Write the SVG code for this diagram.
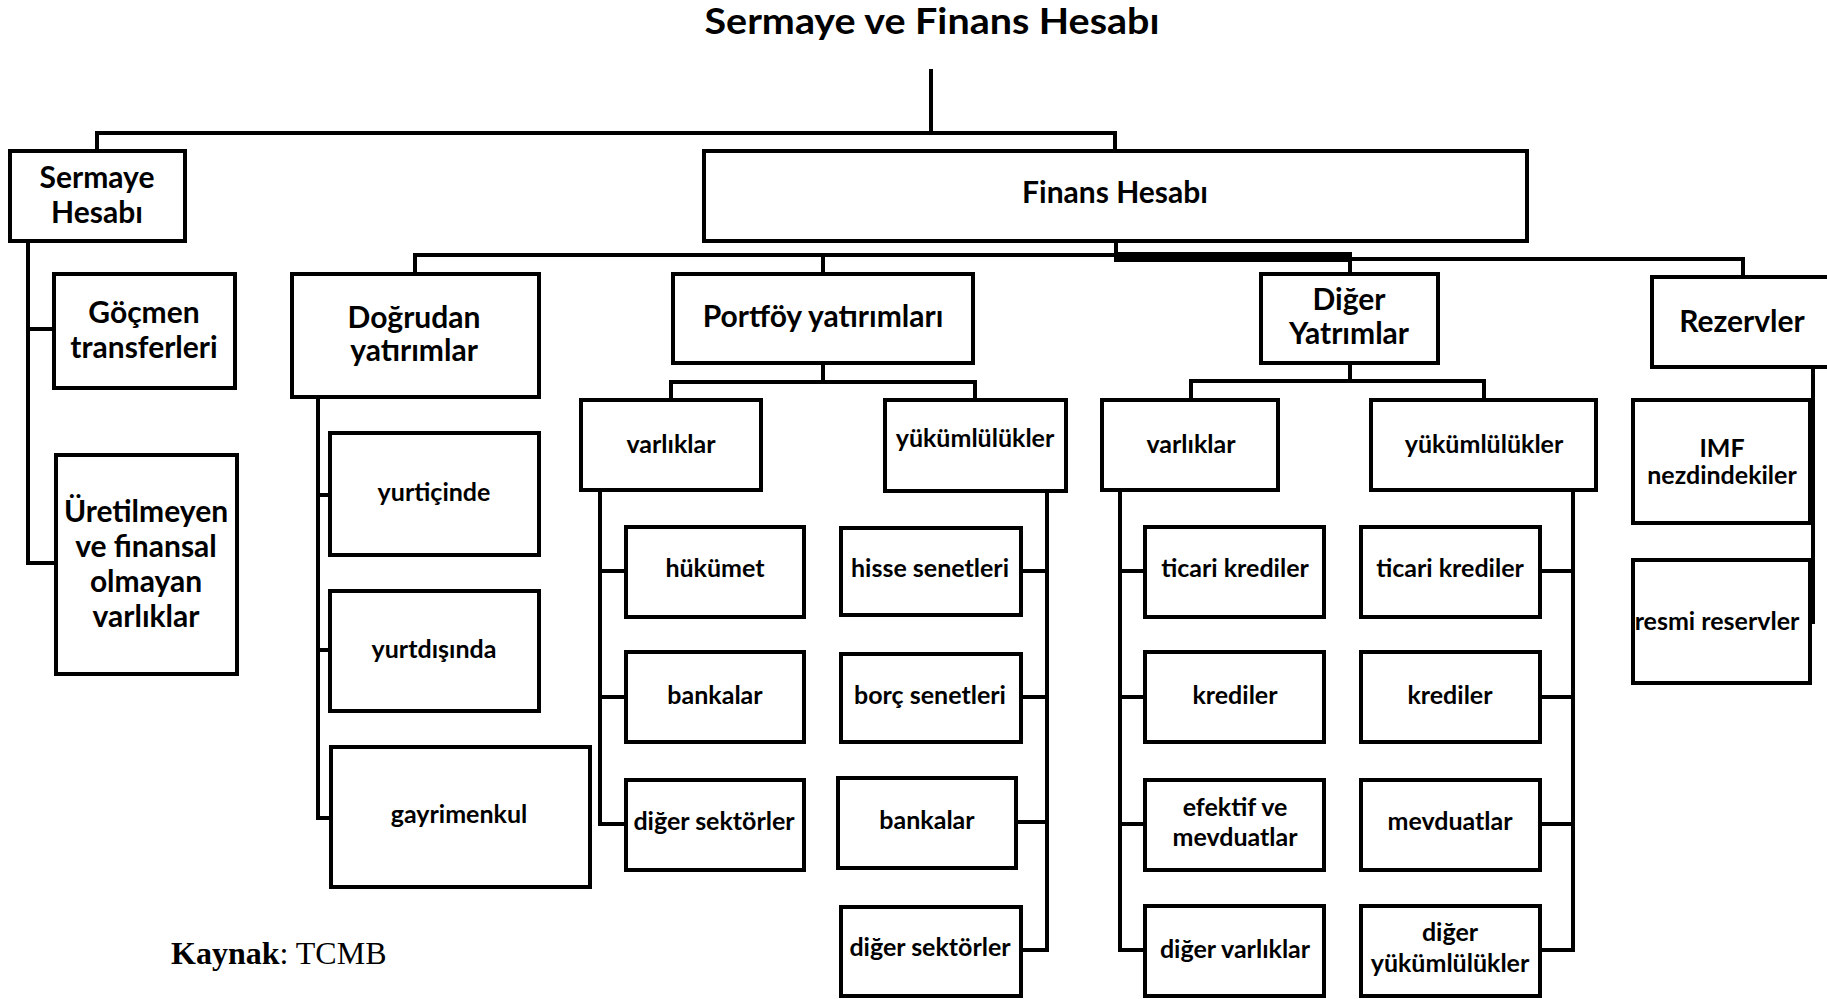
<svg xmlns="http://www.w3.org/2000/svg" width="1827" height="999" viewBox="0 0 1827 999">
<style>
.b{fill:#fff;stroke:#000;stroke-width:4}
.c{fill:none;stroke:#000;stroke-width:4;stroke-linecap:square}
.t{font-family:Lato,"Open Sans","Liberation Sans",sans-serif;font-weight:bold;fill:#000;text-anchor:middle}
.L{font-size:30px}
.S{font-size:25px}
</style>
<rect width="1827" height="999" fill="#fff"/>
<text class="t" x="932" y="34" style="font-size:36px" textLength="455" lengthAdjust="spacingAndGlyphs">Sermaye ve Finans Hesabı</text>
<g id="connectors">
<path class="c" d="M931 71V133M97 133H1115M97 133V151M1115 133V151"/>
<path class="c" d="M1116 241V255M415 255H1116M415 255V274M823 255V274"/>
<rect x="1114" y="252" width="238" height="10" fill="#000"/>
<path class="c" d="M1350 259H1743M1350 259V274M1743 259V277"/>
<path class="c" d="M28 241V563M28 329H54M28 563H56"/>
<path class="c" d="M318 397V818M318 495H330M318 650H330M318 818H331"/>
<path class="c" d="M823 363V382M671 382H975M671 382V400M975 382V400"/>
<path class="c" d="M600 490V824M600 571H626M600 697H626M600 824H626"/>
<path class="c" d="M1047 491V950M1021 571H1047M1021 697H1047M1016 822H1047M1021 950H1047"/>
<path class="c" d="M1350 363V381M1191 381H1484M1191 381V400M1484 381V400"/>
<path class="c" d="M1120 490V950M1120 571H1145M1120 697H1145M1120 824H1145M1120 950H1145"/>
<path class="c" d="M1573 490V950M1540 571H1573M1540 697H1573M1540 824H1573M1540 950H1573"/>
<path class="c" d="M1813 367V622"/>
</g>
<g id="sermaye-hesabi"><rect class="b" x="10" y="151" width="175" height="90"/><text class="t L" x="97" y="188">Sermaye</text><text class="t L" x="97" y="223">Hesabı</text></g>
<g id="finans-hesabi"><rect class="b" x="704" y="151" width="823" height="90"/><text class="t L" x="1115" y="203">Finans Hesabı</text></g>
<g id="gocmen"><rect class="b" x="54" y="274" width="181" height="114"/><text class="t L" x="144" y="323">Göçmen</text><text class="t L" x="144" y="358">transferleri</text></g>
<g id="uretilmeyen"><rect class="b" x="56" y="455" width="181" height="219"/><text class="t L" x="146" y="522">Üretilmeyen</text><text class="t L" x="146" y="557">ve finansal</text><text class="t L" x="146" y="592">olmayan</text><text class="t L" x="146" y="627">varlıklar</text></g>
<g id="dogrudan"><rect class="b" x="292" y="274" width="247" height="123"/><text class="t L" x="414" y="328">Doğrudan</text><text class="t L" x="414" y="361">yatırımlar</text></g>
<g id="yurticinde"><rect class="b" x="330" y="433" width="209" height="122"/><text class="t S" x="434" y="501">yurtiçinde</text></g>
<g id="yurtdisinda"><rect class="b" x="330" y="591" width="209" height="120"/><text class="t S" x="434" y="658">yurtdışında</text></g>
<g id="gayrimenkul"><rect class="b" x="331" y="747" width="259" height="140"/><text class="t S" x="459" y="823">gayrimenkul</text></g>
<g id="portfoy"><rect class="b" x="673" y="274" width="300" height="89"/><text class="t L" x="823" y="327">Portföy yatırımları</text></g>
<g id="p-varliklar"><rect class="b" x="581" y="400" width="180" height="90"/><text class="t S" x="671" y="453">varlıklar</text></g>
<g id="p-yukumlulukler"><rect class="b" x="885" y="400" width="181" height="91"/><text class="t S" x="975" y="447">yükümlülükler</text></g>
<g id="p-hukumet"><rect class="b" x="626" y="527" width="178" height="90"/><text class="t S" x="715" y="577">hükümet</text></g>
<g id="p-bankalar"><rect class="b" x="626" y="652" width="178" height="90"/><text class="t S" x="715" y="704">bankalar</text></g>
<g id="p-diger-sektorler"><rect class="b" x="626" y="780" width="178" height="90"/><text class="t S" x="714" y="830">diğer sektörler</text></g>
<g id="p-hisse"><rect class="b" x="841" y="528" width="180" height="87"/><text class="t S" x="930" y="577">hisse senetleri</text></g>
<g id="p-borc"><rect class="b" x="841" y="654" width="180" height="88"/><text class="t S" x="930" y="704">borç senetleri</text></g>
<g id="p-bankalar2"><rect class="b" x="838" y="778" width="178" height="90"/><text class="t S" x="927" y="829">bankalar</text></g>
<g id="p-diger-sektorler2"><rect class="b" x="841" y="907" width="180" height="89"/><text class="t S" x="930" y="956">diğer sektörler</text></g>
<g id="diger-yatirimlar"><rect class="b" x="1261" y="274" width="177" height="89"/><text class="t L" x="1349" y="310">Diğer</text><text class="t L" x="1349" y="344">Yatrımlar</text></g>
<g id="d-varliklar"><rect class="b" x="1102" y="400" width="176" height="90"/><text class="t S" x="1191" y="453">varlıklar</text></g>
<g id="d-yukumlulukler"><rect class="b" x="1371" y="400" width="225" height="90"/><text class="t S" x="1484" y="453">yükümlülükler</text></g>
<g id="d-ticari"><rect class="b" x="1145" y="527" width="179" height="90"/><text class="t S" x="1235" y="577">ticari krediler</text></g>
<g id="d-krediler"><rect class="b" x="1145" y="652" width="179" height="90"/><text class="t S" x="1235" y="704">krediler</text></g>
<g id="d-efektif"><rect class="b" x="1145" y="780" width="179" height="90"/><text class="t S" x="1235" y="816">efektif ve</text><text class="t S" x="1235" y="846">mevduatlar</text></g>
<g id="d-diger-varliklar"><rect class="b" x="1145" y="906" width="179" height="90"/><text class="t S" x="1235" y="958">diğer varlıklar</text></g>
<g id="y-ticari"><rect class="b" x="1361" y="527" width="179" height="90"/><text class="t S" x="1450" y="577">ticari krediler</text></g>
<g id="y-krediler"><rect class="b" x="1361" y="652" width="179" height="90"/><text class="t S" x="1450" y="704">krediler</text></g>
<g id="y-mevduatlar"><rect class="b" x="1361" y="780" width="179" height="90"/><text class="t S" x="1450" y="830">mevduatlar</text></g>
<g id="y-diger"><rect class="b" x="1361" y="906" width="179" height="90"/><text class="t S" x="1450" y="941">diğer</text><text class="t S" x="1450" y="972">yükümlülükler</text></g>
<g id="rezervler"><rect class="b" x="1652" y="277" width="200" height="90"/><text class="t L" x="1742" y="332">Rezervler</text></g>
<g id="imf"><rect class="b" x="1633" y="400" width="177" height="123"/><text class="t S" x="1722" y="457">IMF</text><text class="t S" x="1722" y="484">nezdindekiler</text></g>
<g id="resmi"><rect class="b" x="1633" y="560" width="177" height="123"/><text class="t S" x="1717" y="630">resmi reservler</text></g>
<text x="171" y="964" style="font-family:'Liberation Serif',serif;font-size:32px"><tspan font-weight="bold">Kaynak</tspan>: TCMB</text>
</svg>
